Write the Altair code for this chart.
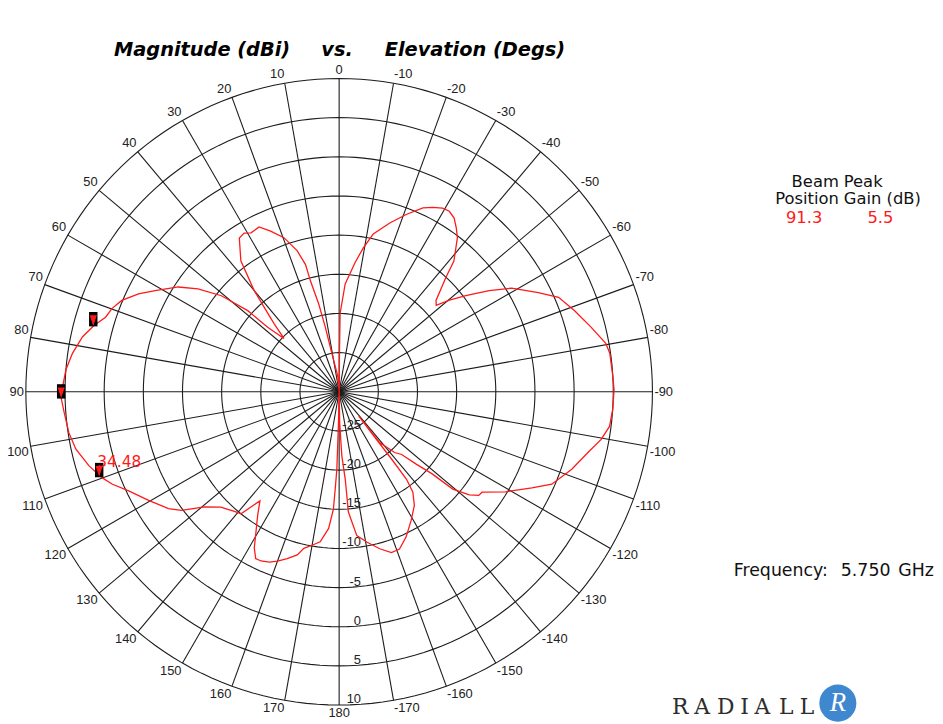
import altair as alt
import pandas as pd

# ---------------- data ----------------
theta_deg = [0.0, -0.5, -0.7, -3.2, -7.0, -9.5, -12.2, -16.7, -20.7, -24.5, -26.9, -29.4, -31.4, -33.5,
             -35.6, -37.5, -41.3, -43.0, -46.7, -48.3, -50.3, -52.8, -56.0, -59.0, -63.5, -66.7, -71.0,
             -75.6, -79.7, -81.9, -86.8, -89.6, -93.7, -97.3, -100.3, -103.7, -108.4, -113.5, -116.5,
             -121.0, -125.1, -126.6, -128.4, -130.6, -131.4, -133.2, -135.1, -137.6, -141.4, -141.2,
             -141.9, -142.1, -142.4, -143.7, -146.5, -150.7, -155.2, -159.0, -162.0, -165.5, -169.6,
             -173.0, -175.6, -176.0, -177.6, -179.0, 180.0, 178.8, 178.3, 177.7, 177.2, 175.6, 172.8,
             170.0, 167.3, 165.6, 162.7, 160.0, 157.7, 155.2, 153.4, 151.5, 149.3, 146.6, 144.0, 141.2,
             138.8, 134.3, 130.6, 126.9, 124.4, 119.7, 115.2, 112.1, 109.9, 106.5, 102.3, 98.6, 94.4,
             91.3, 88.9, 85.4, 81.8, 77.9, 74.8, 72.3, 69.9, 67.2, 64.0, 61.2, 56.9, 53.9, 50.8, 48.4,
             47.9, 46.0, 43.7, 41.6, 40.0, 36.9, 33.0, 30.9, 29.0, 25.9, 23.1, 19.7, 16.6, 14.8, 14.5,
             13.1, 12.1, 10.7, 5.0, 0.0]
gain_db = [-30.0, -25.0, -20.0, -16.2, -13.4, -11.4, -9.4, -7.5, -5.8, -4.2, -3.6, -3.1, -3.0, -3.4,
           -4.3, -5.2, -7.8, -10.0, -13.0, -13.4, -11.7, -9.7, -6.9, -4.3, -1.6, 0.5, 1.8,
           3.2, 4.6, 4.9, 5.0, 5.1, 5.0, 4.8, 4.0, 2.7, 1.3, -0.4, -2.5,
           -5.2, -7.7, -7.8, -8.8, -10.9, -14.1, -16.5, -18.7, -19.5, -21.7, -26.0,
           -22.3, -18.8, -15.9, -14.1, -12.6, -11.2, -9.6, -8.5, -8.4, -9.3, -10.5,
           -11.5, -14.6, -18.8, -21.8, -26.0, -30.0, -26.0, -20.1, -17.6, -15.0, -12.5, -10.7,
           -10.1, -9.5, -8.5, -7.7, -7.0, -6.5, -6.2, -6.2, -7.3, -9.2, -11.1, -12.8, -10.0,
           -9.7, -8.9, -7.4, -4.8, -3.6, -2.0, -0.3, 1.3, 2.2, 3.3, 4.4, 4.9, 5.2,
           5.5, 5.3, 5.0, 4.4, 3.5, 2.4, 1.3, 0.9, 0.1, -1.5, -3.2, -5.5, -7.7, -10.6, -14.4,
           -17.7, -20.2, -18.0, -15.6, -13.1, -9.1, -6.6, -6.4, -6.8, -6.6, -7.7, -9.1, -11.2, -13.2, -15.4,
           -18.5, -21.5, -25.0, -28.0, -30.0]

marker_theta = [75.0, 91.3, 109.5]
marker_gain = [2.5, 5.5, 2.5]
beamwidth_text = "34.48"

ring_levels = [-25, -20, -15, -10, -5, 0, 5, 10]
spoke_angles = list(range(-170, 190, 10))
angle_ticks = [0, 10, 20, 30, 40, 50, 60, 70, 80, 90, 100, 110, 120, 130, 140, 150, 160, 170, 180,
               -10, -20, -30, -40, -50, -60, -70, -80, -90, -100, -110, -120, -130, -140, -150, -160, -170]

title_parts = ["Magnitude (dBi)", "vs.", "Elevation (Degs)"]
legend_col1 = ["Beam", "Position"]
legend_col2 = ["Peak", "Gain (dB)"]
beam_position = "91.3"
peak_gain = "5.5"
freq_parts = ["Frequency:", "5.750", "GHz"]
logo_letters = ["R", "A", "D", "I", "A", "L", "L"]

# ---------------- chart ----------------
FLOOR = -30.0   # dB at the centre
RMAX = 40.0     # radial units to the outer ring (10 dB)
W = 632

xs = alt.Scale(domain=[-RMAX, RMAX], nice=False, zero=False)
ys = alt.Scale(domain=[-RMAX, RMAX], nice=False, zero=False)
X = alt.X("x:Q", scale=xs, axis=None)
Y = alt.Y("y:Q", scale=ys, axis=None)

polar_x = f"-(datum.db - ({FLOOR})) * sin(datum.theta * PI / 180)"
polar_y = f"(datum.db - ({FLOOR})) * cos(datum.theta * PI / 180)"

GRID = "#1c1c1c"

# rings
ring_rows = [{"ring": lv, "theta": a, "db": lv} for lv in ring_levels for a in range(0, 362, 2)]
rings = alt.Chart(pd.DataFrame(ring_rows)).transform_calculate(
    x=polar_x, y=polar_y
).mark_line(color=GRID, strokeWidth=1.1).encode(
    x=X, y=Y, detail="ring:N", order="theta:Q"
)

# spokes
spokes = alt.Chart(pd.DataFrame({"theta": spoke_angles, "db": [ring_levels[-1]] * len(spoke_angles)})).transform_calculate(
    x="0", y="0", x2=polar_x, y2=polar_y
).mark_rule(color=GRID, strokeWidth=1.1).encode(
    x=X, y=Y, x2="x2:Q", y2="y2:Q"
)

# angle labels
LAB_DB = FLOOR + 318 / 7.9
lab_df = pd.DataFrame({"theta": angle_ticks, "db": [LAB_DB] * len(angle_ticks),
                       "t": [str(a) for a in angle_ticks]})
groups = [
    ("datum.theta == 0", "center", "bottom"),
    ("datum.theta == 180", "center", "top"),
    ("datum.theta > 0 && datum.theta < 90", "right", "bottom"),
    ("datum.theta == 90", "right", "middle"),
    ("datum.theta > 90 && datum.theta < 180", "right", "top"),
    ("datum.theta < 0 && datum.theta > -90", "left", "bottom"),
    ("datum.theta == -90", "left", "middle"),
    ("datum.theta < -90", "left", "top"),
]
angle_layers = []
for flt, al, bl in groups:
    angle_layers.append(
        alt.Chart(lab_df).transform_filter(flt).transform_calculate(x=polar_x, y=polar_y)
        .mark_text(align=al, baseline=bl, font="Liberation Sans", fontSize=13, color="#222222")
        .encode(x=X, y=Y, text="t:N")
    )

# radial labels along the 180 spoke
rad_df = pd.DataFrame({"db": ring_levels, "t": [str(v) for v in ring_levels]})
rad_labels = alt.Chart(rad_df).transform_calculate(
    x=f"{22 / 7.9}", y=f"-(datum.db - ({FLOOR}))"
).mark_text(align="right", baseline="alphabetic", dy=-2, font="Liberation Sans", fontSize=13,
            color="#222222").encode(x=X, y=Y, text="t:N")

# measured curve
curve_df = pd.DataFrame({"theta": theta_deg, "db": gain_db, "i": list(range(len(theta_deg)))})
curve = alt.Chart(curve_df).transform_calculate(x=polar_x, y=polar_y).mark_line(
    color="#ff1a1a", strokeWidth=1.3
).encode(x=X, y=Y, order="i:Q")

# markers
mk_df = pd.DataFrame({"theta": marker_theta, "db": marker_gain})
rect_path = "M-0.85,-2.8L0.85,-2.8L0.85,0.1L-0.85,0.1Z"
tri_path = "M-0.72,-2.15L0.72,-2.15L0,0Z"
mk_rect = alt.Chart(mk_df).transform_calculate(x=polar_x, y=polar_y).mark_point(
    shape=rect_path, filled=True, color="#000000", size=100, strokeWidth=0, opacity=1
).encode(x=X, y=Y)
mk_tri = alt.Chart(mk_df).transform_calculate(x=polar_x, y=polar_y).mark_point(
    shape=tri_path, filled=True, color="#ff1a1a", size=100, strokeWidth=0, opacity=1
).encode(x=X, y=Y)
bw_df = pd.DataFrame({"theta": [marker_theta[2]], "db": [marker_gain[2]], "t": [beamwidth_text]})
bw_label = alt.Chart(bw_df).transform_calculate(x=polar_x, y=polar_y).mark_text(
    align="left", baseline="alphabetic", dx=-2, dy=-10, font="DejaVu Sans", fontSize=15.5,
    color="#ff1a1a"
).encode(x=X, y=Y, text="t:N")


def note(text, x, y, size, color="#111111", font="DejaVu Sans", align="left",
         weight="normal", style="normal", baseline="alphabetic"):
    return alt.Chart(pd.DataFrame({"t": [text]})).mark_text(
        align=align, baseline=baseline, font=font, fontSize=size, fontWeight=weight,
        fontStyle=style, color=color
    ).encode(text="t:N", x=alt.value(x), y=alt.value(y))


OX, OY = 23, 76  # page position of the plot origin
SHIFT = 3        # correction measured from the first render
notes = [
    note(title_parts[0], 112 - OX, 53 - OY, 19.5, "#000000", weight="bold", style="italic"),
    note(title_parts[1], 321 - OX, 53 - OY, 19.5, "#000000", weight="bold", style="italic"),
    note(title_parts[2], 385 - OX, 53 - OY, 19.5, "#000000", weight="bold", style="italic"),
    note(legend_col1[0], 843 - OX, 185 - OY, 16.5, align="right"),
    note(legend_col2[0], 848 - OX, 185 - OY, 16.5, align="left"),
    note(legend_col1[1], 843 - OX, 203 - OY, 16.5, align="right"),
    note(legend_col2[1], 848 - OX, 203 - OY, 16.5, align="left"),
    note(beam_position, 808 - OX, 222 - OY, 16.5, "#ff1a1a", align="center"),
    note(peak_gain, 885 - OX, 222 - OY, 16.5, "#ff1a1a", align="center"),
    note(freq_parts[0], 737 - OX, 578 - OY, 17.5),
    note(freq_parts[1], 845 - OX, 578 - OY, 17.5),
    note(freq_parts[2], 903 - OX, 578 - OY, 17.5),
]

logo_x = [683, 705, 729, 748, 766, 790, 811]
for ch, lx in zip(logo_letters, logo_x):
    notes.append(note(ch, lx - OX, 717 - OY, 22, "#2e2e2e", font="DejaVu Serif", align="center"))

globe = alt.Chart(pd.DataFrame({"k": [1]})).mark_point(
    shape="circle", filled=True, color="#3f87cf", size=1400, opacity=1, strokeWidth=0
).encode(x=alt.value(842 - OX), y=alt.value(706 - OY))
globe_r = note("R", 842 - OX, 706 - OY, 27, "#ffffff", font="Liberation Serif", align="center",
               style="italic", baseline="middle")

chart = alt.layer(
    rings, spokes, *angle_layers, rad_labels, curve, mk_rect, mk_tri, bw_label,
    *notes, globe, globe_r
).properties(
    width=W, height=W,
    padding={"left": OX - 8 + SHIFT, "top": OY - 8,
             "right": 935 - (OX - 8 + SHIFT) - W, "bottom": 716 - (OY - 8) - W},
    autosize=alt.AutoSizeParams(type="none"),
    background="#ffffff",
).configure_view(stroke=None)

chart.save("out.html", embed_options={"renderer": "svg", "actions": False})
